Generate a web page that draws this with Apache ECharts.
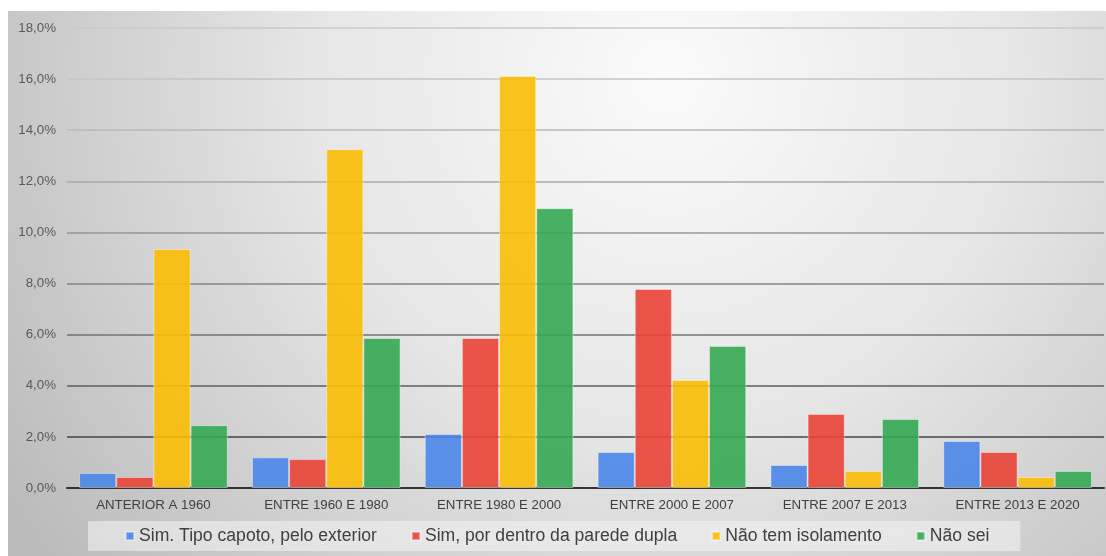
<!DOCTYPE html>
<html>
<head>
<meta charset="utf-8">
<script src="https://cdn.jsdelivr.net/npm/echarts@6/dist/echarts.min.js"></script>
<style>
html,body{margin:0;padding:0;background:#fff;}
#c{position:absolute;left:8px;top:11px;width:1098px;height:545px;}
</style>
</head>
<body>
<div id="c"></div>
<script>
var categories = ['ANTERIOR A 1960','ENTRE 1960 E 1980','ENTRE 1980 E 2000','ENTRE 2000 E 2007','ENTRE 2007 E 2013','ENTRE 2013 E 2020'];
var seriesNames = ['Sim. Tipo capoto, pelo exterior','Sim, por dentro da parede dupla','Não tem isolamento','Não sei'];
var capoto   = [0.59, 1.20, 2.11, 1.41, 0.90, 1.84];
var paredeDupla = [0.43, 1.13, 5.87, 7.79, 2.90, 1.41];
var semIsolamento = [9.35, 13.26, 16.12, 4.23, 0.67, 0.43];
var naoSei   = [2.46, 5.87, 10.95, 5.56, 2.70, 0.67];
var yTicks = {min:0, max:18, interval:2};

var colors = ['#4a86e8','#ea4335','#fbbc04','#34a853'];
var values = [capoto, paredeDupla, semIsolamento, naoSei];

var chart = echarts.init(document.getElementById('c'), null, {renderer:'canvas'});
var series = values.map(function(v,i){
  return {
    name: seriesNames[i], type:'bar', data:v,
    barGap:'0%', barCategoryGap:'14%',
    itemStyle:{color:colors[i], opacity:0.9, borderColor:'rgba(255,255,255,0.45)', borderWidth:1}
  };
});
chart.setOption({
  backgroundColor:{type:'radial', x:0.6, y:0.12, r:1.45,
    colorStops:[{offset:0,color:'#fbfbfb'},{offset:0.45,color:'#e6e6e6'},{offset:1,color:'#bababa'}]},
  animation:false,
  grid:{left:59, right:2, top:17, bottom:68},
  legend:{
    left:80, top:510, height:30,
    padding:[6,31,6,37], itemGap:34,
    itemWidth:8, itemHeight:8, icon:'rect',
    backgroundColor:'rgba(242,242,242,0.6)',
    textStyle:{fontFamily:'Liberation Sans, Arial', fontSize:17.6, color:'#404040'},
    data:seriesNames
  },
  xAxis:{type:'category', data:categories,
    axisTick:{show:false},
    axisLine:{lineStyle:{color:'#333', width:2}},
    axisLabel:{fontFamily:'Liberation Sans, Arial', fontSize:13.3, color:'#404040', margin:11}
  },
  yAxis:{type:'value', min:yTicks.min, max:yTicks.max, interval:yTicks.interval,
    axisLine:{show:false}, axisTick:{show:false},
    axisLabel:{fontFamily:'Liberation Sans, Arial', fontSize:13.3, color:'#595959', margin:11,
      formatter:function(v){return v.toFixed(1).replace('.',',')+'%';}},
    splitLine:{lineStyle:{width:1.5, color:['#333','#454545','#5e5e5e','#727272','#848484','#969696','#a8a8a8','#b8b8b8','#c4c4c4','#cacaca']}}
  },
  series:series
});
</script>
</body>
</html>
